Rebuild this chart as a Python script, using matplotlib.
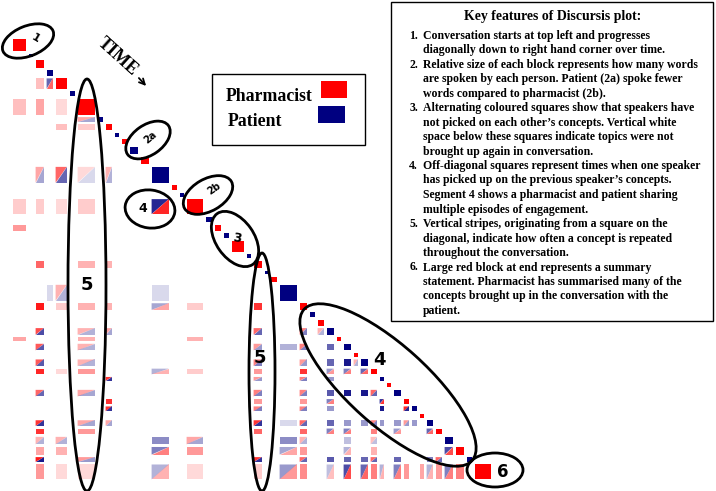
import numpy as np
import matplotlib.pyplot as plt
from matplotlib.patches import Rectangle, Polygon, Ellipse

# utterance lengths (word-count units) along the diagonal, in time order
lengths = [16, 7, 11, 9, 14, 8, 20, 8, 9, 7, 8, 11, 11, 20, 8, 7, 19, 9, 9, 8,
           15, 7, 11, 6, 9, 20, 10, 8, 9, 10, 7, 10, 7, 10, 9, 7, 7, 10, 8, 8,
           7, 9, 9, 11, 11, 8, 19]
# R = pharmacist, B = patient
speakers = list("RBRBRBRBRBRBRBRBRBRBRBRBRBRBRBRBRBRBRBRBRBRBRBR")

# off-diagonal recurrence cells: later utterance (row), earlier utterance (col), strength
cell_rows = [5, 5, 7, 7, 7, 8, 9, 9, 14, 14, 14, 14, 17, 17, 17, 17, 17, 19,
             23, 23, 23, 26, 26, 26, 27, 27, 27, 27, 27, 27, 27,
             30, 30, 30, 30, 30, 30, 31, 31, 31, 32, 32, 32, 32, 32, 32,
             34, 34, 34, 34, 34, 34, 34,
             35, 35, 35, 35, 35, 35, 35, 35, 35, 35, 36, 36, 36, 36,
             38, 38, 38, 38, 38, 38, 38, 38, 39, 39, 39, 39, 39,
             40, 40, 40, 40, 40, 40,
             42, 42, 42, 42, 42, 42, 42, 42, 42, 42, 42, 42, 42, 42,
             43, 43, 43, 43, 43, 43, 43, 43, 43,
             44, 44, 44, 44, 44, 44, 44, 44,
             45, 45, 45, 45, 45, 45, 45, 45, 45,
             46, 46, 46, 46, 46, 46, 46, 46, 46, 46, 46,
             47, 47, 47, 47, 47, 47, 47, 47, 47, 47, 47, 47, 47, 47, 47, 47, 47, 47, 47, 47]
cell_cols = [3, 4, 1, 3, 5, 7, 5, 7, 3, 5, 7, 9, 1, 3, 5, 7, 14, 1,
             3, 7, 9, 4, 5, 14, 3, 5, 7, 9, 14, 17, 23,
             3, 7, 9, 23, 27, 29, 1, 7, 17, 3, 7, 23, 26, 27, 30,
             3, 7, 23, 27, 30, 32, 33,
             3, 5, 7, 14, 17, 23, 27, 30, 32, 34, 9, 23, 27, 30,
             3, 7, 23, 27, 30, 32, 34, 35, 9, 23, 27, 30, 36,
             9, 23, 27, 30, 36, 39,
             3, 7, 9, 23, 26, 27, 30, 32, 34, 35, 36, 38, 39, 40,
             3, 7, 23, 27, 30, 32, 35, 38, 42,
             3, 5, 14, 17, 26, 27, 32, 35,
             3, 5, 14, 17, 26, 27, 32, 35, 44,
             3, 7, 23, 27, 30, 32, 34, 35, 38, 42, 43,
             3, 5, 7, 14, 17, 23, 26, 27, 30, 32, 34, 35, 36, 38, 39, 41, 42, 43, 44, 45]
cell_alpha = [0.25, 0.6, 0.25, 0.35, 0.15, 0.35, 0.25, 0.2, 0.35, 0.6, 0.15, 0.3, 0.2, 0.2, 0.15, 0.2, 0.85, 0.4,
              0.6, 0.3, 0.3, 0.15, 0.3, 0.15, 0.9, 0.2, 0.3, 0.3, 0.35, 0.2, 0.8,
              0.7, 0.3, 0.35, 0.6, 0.5, 0.3, 0.35, 0.3, 0.3, 0.65, 0.3, 0.4, 0.3, 0.5, 0.6,
              0.65, 0.3, 0.5, 0.4, 0.6, 0.9, 0.3,
              0.85, 0.15, 0.4, 0.3, 0.2, 0.4, 0.8, 0.4, 0.5, 0.6, 0.8, 0.4, 0.5, 0.4,
              0.6, 0.35, 0.5, 0.5, 0.65, 0.9, 0.9, 0.6, 0.8, 0.4, 0.4, 0.5, 0.8,
              0.8, 0.5, 0.5, 0.4, 0.9, 0.85,
              0.8, 0.35, 0.35, 0.8, 0.15, 0.6, 0.6, 0.4, 0.4, 0.5, 0.4, 0.4, 0.4, 0.4,
              0.8, 0.4, 0.6, 0.6, 0.5, 0.5, 0.5, 0.4, 0.6,
              0.3, 0.3, 0.45, 0.35, 0.45, 0.3, 0.25, 0.25,
              0.35, 0.3, 0.5, 0.4, 0.35, 0.4, 0.3, 0.3, 0.7,
              0.9, 0.4, 0.8, 0.6, 0.65, 0.6, 0.6, 0.6, 0.6, 0.5, 0.6,
              0.4, 0.15, 0.15, 0.3, 0.15, 0.2, 0.4, 0.45, 0.25, 0.7, 0.6, 0.5, 0.3, 0.5, 0.4, 0.35, 0.3, 0.4, 0.5, 0.5]

legend_labels = ["Pharmacist", "Patient"]
box_title = "Key features of Discursis plot:"
box_items = [
    ["Conversation starts at top left and progresses",
     "diagonally down to right hand corner over time."],
    ["Relative size of each block represents how many words",
     "are spoken by each person. Patient (2a) spoke fewer",
     "words compared to pharmacist (2b)."],
    ["Alternating coloured squares show that speakers have",
     "not picked on each other\u2019s concepts. Vertical white",
     "space below these squares indicate topics were not",
     "brought up again in conversation."],
    ["Off-diagonal squares represent times when one speaker",
     "has picked up on the previous speaker\u2019s concepts.",
     "Segment 4 shows a pharmacist and patient sharing",
     "multiple episodes of engagement."],
    ["Vertical stripes, originating from a square on the",
     "diagonal, indicate how often a concept is repeated",
     "throughout the conversation."],
    ["Large red block at end represents a summary",
     "statement. Pharmacist has summarised many of the",
     "concepts brought up in the conversation with the",
     "patient."],
]

COL = {'R': '#ff0000', 'B': '#000080'}
SERIF = 'Liberation Serif'

fig = plt.figure(figsize=(7.16, 4.91), dpi=100)

# discursis recurrence plot
ax = fig.add_axes([11.2 / 716, 1 - 480.7 / 491, 481 / 716, 443.2 / 491])
starts = np.concatenate([[0], np.cumsum(lengths)[:-1]])
total = float(np.sum(lengths))
ax.set_xlim(0, total)
ax.set_ylim(total, 0)
ax.axis('off')
pad = 1.4

for s, L, sp in zip(starts, lengths, speakers):
    ax.add_patch(Rectangle((s + pad, s + pad), L - 2 * pad, L - 2 * pad,
                           facecolor=COL[sp], lw=0, zorder=3))

for r, c, a in zip(cell_rows, cell_cols, cell_alpha):
    x0 = starts[c - 1] + pad
    x1 = starts[c - 1] + lengths[c - 1] - pad
    y0 = starts[r - 1] + pad
    y1 = starts[r - 1] + lengths[r - 1] - pad
    if speakers[r - 1] == speakers[c - 1]:
        ax.add_patch(Rectangle((x0, y0), x1 - x0, y1 - y0,
                               facecolor=COL[speakers[r - 1]], alpha=a, lw=0))
    else:
        ax.add_patch(Polygon([(x0, y0), (x1, y0), (x0, y1)],
                             facecolor=COL[speakers[c - 1]], alpha=a, lw=0))
        ax.add_patch(Polygon([(x1, y0), (x1, y1), (x0, y1)],
                             facecolor=COL[speakers[r - 1]], alpha=a, lw=0))

# annotation layer in pixel coordinates
ov = fig.add_axes([0, 0, 1, 1], zorder=5)
ov.set_xlim(0, 716)
ov.set_ylim(491, 0)
ov.axis('off')
ov.patch.set_alpha(0)

ellipses = [  # (cx, cy, w, h, angle)
    (28, 41, 54, 30, -22),
    (148, 140, 50, 30, -35),
    (150, 209, 50, 38, 8),
    (208, 195, 54, 32, -30),
    (235, 239, 62, 38, 55),
    (87, 285, 38, 412, 0),
    (262, 372, 26, 238, 0),
    (388, 385, 226, 80, 42),
    (495, 470, 56, 34, 0),
]
for cx, cy, w, h, ang in ellipses:
    ov.add_patch(Ellipse((cx, cy), w, h, angle=ang, fill=False, ec='black', lw=2))

labels = [  # (x, y, text, size, rotation)
    (36, 38, "1", 8, -30),
    (150, 137, "2a", 7, 40),
    (214, 189, "2b", 7, 35),
    (237, 238, "3", 9, -10),
    (143, 208, "4", 9, 0),
    (87, 285, "5", 13, 0),
    (260, 358, "5", 13, 0),
    (379, 360, "4", 13, 0),
    (503, 472, "6", 12, 0),
]
for x, y, t, fs, rot in labels:
    ov.text(x, y, t, fontsize=fs, rotation=rot, ha='center', va='center',
            fontweight='bold', family='DejaVu Sans')

ov.text(118, 57, "TIME", fontsize=13, rotation=-42, ha='center', va='center',
        fontweight='bold', family=SERIF)
ov.annotate("", xy=(148, 88), xytext=(137, 76),
            arrowprops=dict(arrowstyle='->', lw=1.3, color='black'))

# legend box
ov.add_patch(Rectangle((212, 74), 153, 71, fill=False, ec='black', lw=1))
ov.text(226, 96, legend_labels[0], fontsize=12.8, fontweight='bold', family=SERIF,
        ha='left', va='center')
ov.text(228, 121, legend_labels[1], fontsize=12.8, fontweight='bold', family=SERIF,
        ha='left', va='center')
ov.add_patch(Rectangle((321, 81), 26, 17, facecolor=COL['R'], lw=0))
ov.add_patch(Rectangle((318, 106), 27, 17, facecolor=COL['B'], lw=0))

# key features box
ov.add_patch(Rectangle((391, 2), 322, 319, fill=False, ec='black', lw=1))
ov.text(553, 16, box_title, fontsize=9.9, fontweight='bold', family=SERIF,
        ha='center', va='center')
y = 35.5
for k, item in enumerate(box_items):
    ov.text(418, y, f"{k + 1}.", fontsize=8.5, fontweight='bold', family=SERIF,
            ha='right', va='center')
    for line in item:
        ov.text(423, y, line, fontsize=8.5, fontweight='bold', family=SERIF,
                ha='left', va='center')
        y += 14.5

fig.savefig("out.png", dpi=100)
